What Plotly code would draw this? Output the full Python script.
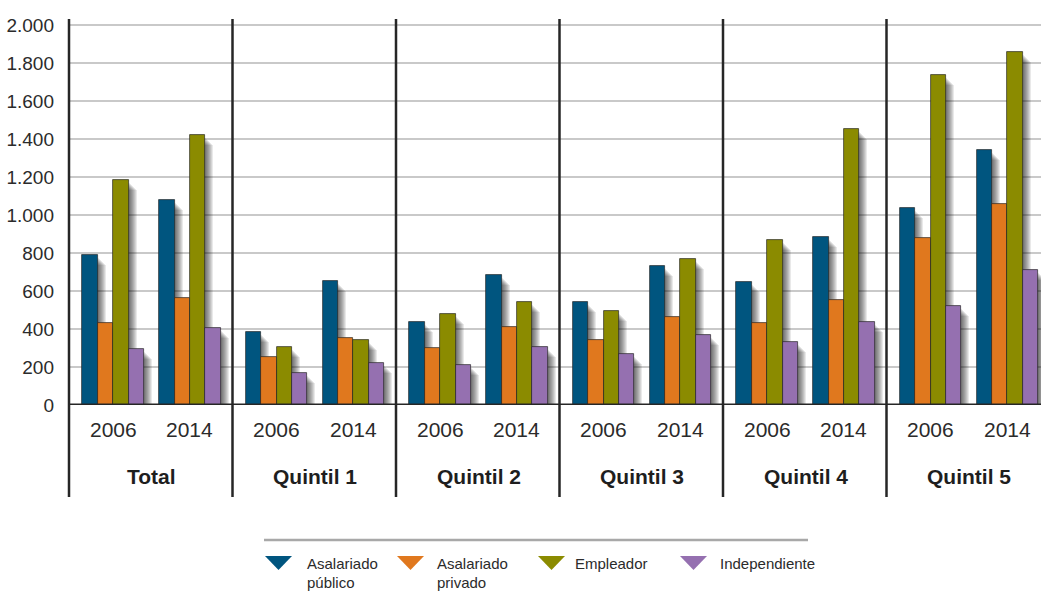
import plotly.graph_objects as go

# Categories
groups = ["Total", "Quintil 1", "Quintil 2", "Quintil 3", "Quintil 4", "Quintil 5"]
years = ["2006", "2014"]
series_names = ["Asalariado público", "Asalariado privado", "Empleador", "Independiente"]
legend_lines = [["Asalariado", "público"], ["Asalariado", "privado"], ["Empleador"], ["Independiente"]]
series_colors = ["#00557f", "#e0781e", "#8b8b00", "#9570b0"]

# Values by series and year (one value per group)
asal_publico_2006 = [790, 383, 436, 540, 645, 1038]
asal_publico_2014 = [1080, 654, 683, 733, 887, 1343]
asal_privado_2006 = [431, 253, 300, 340, 431, 877]
asal_privado_2014 = [564, 352, 410, 464, 555, 1060]
empleador_2006 = [1185, 303, 479, 495, 870, 1736]
empleador_2014 = [1420, 340, 544, 768, 1453, 1857]
independiente_2006 = [295, 168, 212, 267, 331, 523]
independiente_2014 = [405, 221, 305, 370, 439, 710]

y_ticks = [0, 200, 400, 600, 800, 1000, 1200, 1400, 1600, 1800, 2000]

series_values = [
    (asal_publico_2006, asal_publico_2014),
    (asal_privado_2006, asal_privado_2014),
    (empleador_2006, empleador_2014),
    (independiente_2006, independiente_2014),
]

# ---- geometry (pixels of the 1041x591 page) ----
W, H = 1041, 591
ML, MR, MT, MB = 69, 0, 19, 186
PLOT_W = W - ML - MR
PLOT_H = H - MT - MB
GROUP_PX = 163.5                      # width of one group in pixels
X_MAX = PLOT_W / GROUP_PX             # x range in group units
Y_MAX = 2032
UNITS_PER_PX = Y_MAX / PLOT_H

YEAR_OFFSET = [0.27, 0.74]            # cluster centre inside a group
BAR_W = 0.094                         # bar width in group units
PX = 1.0 / GROUP_PX                   # one pixel in group units

FONT = "Liberation Sans Narrow, Arial Narrow, Liberation Sans, Arial, sans-serif"


def px_x(xp):
    return (xp - ML) / PLOT_W


def px_y(yp):
    return (H - MB - yp) / PLOT_H


def bar_x(k, j):
    return [i + YEAR_OFFSET[j] + (k - 1.5) * BAR_W for i in range(len(groups))]


fig = go.Figure()

# soft drop shadows behind every bar (stacked translucent layers)
for k, (v06, v14) in enumerate(series_values):
    xs = bar_x(k, 0) + bar_x(k, 1)
    ys = list(v06) + list(v14)
    for layer in range(1, 9):
        fig.add_trace(go.Bar(
            x=[x + layer * PX for x in xs],
            y=[max(v - (2 + layer) * UNITS_PER_PX, 0) for v in ys],
            width=BAR_W,
            marker=dict(color="rgba(0,0,0,0.085)", line=dict(width=0)),
            showlegend=False, hoverinfo="skip",
        ))

# the bars themselves
for k, (v06, v14) in enumerate(series_values):
    xs = bar_x(k, 0) + bar_x(k, 1)
    ys = list(v06) + list(v14)
    fig.add_trace(go.Bar(
        x=xs, y=ys, width=BAR_W, name=series_names[k],
        marker=dict(color=series_colors[k],
                    line=dict(color="rgba(35,35,35,0.85)", width=0.8)),
        customdata=[g + " " + y for y in years for g in groups],
        hovertemplate="%{customdata}<br>" + series_names[k] + ": %{y}<extra></extra>",
        showlegend=False,
    ))

shapes = []
# baseline
shapes.append(dict(type="line", xref="paper", yref="y", x0=0, x1=1, y0=0, y1=0,
                   line=dict(color="#262626", width=3), layer="above"))
# axis line and group separators running down through the labels
for i in range(len(groups)):
    xp = i / X_MAX
    shapes.append(dict(type="line", xref="paper", yref="paper", x0=xp, x1=xp,
                       y0=px_y(497), y1=1,
                       line=dict(color="#262626", width=2.5), layer="above"))

annotations = []
for i, g in enumerate(groups):
    for j, yr in enumerate(years):
        annotations.append(dict(
            x=i + YEAR_OFFSET[j], y=px_y(429), xref="x", yref="paper",
            text=yr, showarrow=False, xanchor="center", yanchor="middle",
            font=dict(family=FONT, size=21, color="#2b2b2b"),
        ))
    annotations.append(dict(
        x=i + (YEAR_OFFSET[0] + YEAR_OFFSET[1]) / 2, y=px_y(476), xref="x", yref="paper",
        text="<b>" + g + "</b>", showarrow=False, xanchor="center", yanchor="middle",
        font=dict(family=FONT, size=21, color="#1e1e1e"),
    ))

# legend: rule, triangles and labels
shapes.append(dict(type="line", xref="paper", yref="paper",
                   x0=px_x(264), x1=px_x(808), y0=px_y(540), y1=px_y(540),
                   line=dict(color="#a8a8a8", width=2.5)))
tri_left = [265, 397, 538, 680]
text_left = [305, 435, 573, 718]
line_y = [563, 582]
for k in range(len(series_names)):
    x0, x1 = tri_left[k], tri_left[k] + 27
    ya, yb = 556, 570
    path = "M {} {} L {} {} L {} {} Z".format(
        px_x(x0), px_y(ya), px_x(x1), px_y(ya), px_x((x0 + x1) / 2), px_y(yb))
    shapes.append(dict(type="path", xref="paper", yref="paper", path=path,
                       fillcolor=series_colors[k], line=dict(width=0)))
    for n, txt in enumerate(legend_lines[k]):
        annotations.append(dict(
            x=px_x(text_left[k]), y=px_y(line_y[n]), xref="paper", yref="paper",
            text=txt, showarrow=False, xanchor="left", yanchor="middle",
            align="left", font=dict(family=FONT, size=15, color="#2b2b2b"),
        ))

fig.update_layout(
    width=W, height=H,
    margin=dict(l=ML, r=MR, t=MT, b=MB, pad=0),
    paper_bgcolor="white", plot_bgcolor="white",
    barmode="overlay", bargap=0,
    separators=",.",
    showlegend=False,
    shapes=shapes, annotations=annotations,
    xaxis=dict(range=[0, X_MAX], showgrid=False, zeroline=False,
               showticklabels=False, ticks="", showline=False, fixedrange=True),
    yaxis=dict(range=[0, Y_MAX], tickvals=y_ticks, tickformat=",",
               showgrid=True, gridcolor="#c9c9c9", gridwidth=1.5,
               zeroline=False, showline=False, ticks="",
               ticklabelstandoff=14,
               tickfont=dict(family=FONT, size=19, color="#2b2b2b"),
               fixedrange=True),
)

fig.write_html("out.html")
